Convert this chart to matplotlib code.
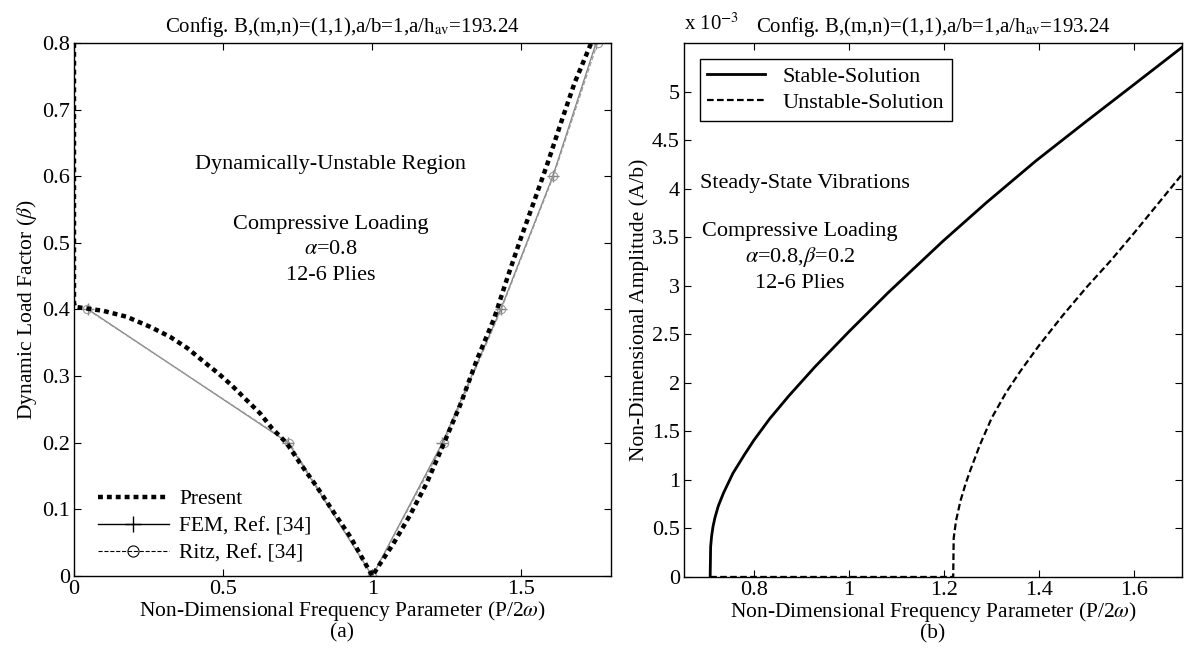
import matplotlib
matplotlib.use('Agg')
import matplotlib.pyplot as plt
from matplotlib.lines import Line2D
from matplotlib.ticker import FuncFormatter

plt.rcParams['font.family'] = ['Liberation Serif', 'DejaVu Serif']
plt.rcParams['mathtext.fontset'] = 'stix'
plt.rcParams['font.size'] = 15

# (a) instability region, beta vs P/2w
present_x = [0.0, 0.0, 0.003, 0.098, 0.177, 0.255, 0.322, 0.380, 0.434, 0.484, 0.529, 0.574,
             0.624, 0.663, 0.714, 0.758, 0.814, 0.870, 0.926, 1.0, 1.027, 1.070, 1.126,
             1.182, 1.239, 1.295, 1.351, 1.408, 1.453, 1.498, 1.543, 1.588, 1.633, 1.678, 1.734]
present_beta = [0.8, 0.41, 0.404, 0.398, 0.389, 0.374, 0.359, 0.342, 0.322, 0.304, 0.286, 0.266,
                0.244, 0.222, 0.199, 0.169, 0.134, 0.096, 0.059, 0.0, 0.019, 0.048, 0.091,
                0.139, 0.198, 0.257, 0.325, 0.386, 0.448, 0.507, 0.563, 0.620, 0.681, 0.740, 0.8]
fem_x = [0.048, 0.718, 1.0, 1.235, 1.430, 1.605, 1.750]
fem_beta = [0.4, 0.2, 0.0, 0.2, 0.4, 0.6, 0.8]
ritz_x = [0.045, 0.722, 1.0, 1.240, 1.432, 1.607, 1.755]
ritz_beta = [0.4, 0.2, 0.0, 0.2, 0.4, 0.6, 0.8]

# (b) amplitude (x 1e-3) vs P/2w
stable_x = [0.708, 0.7085, 0.709, 0.711, 0.714, 0.718, 0.725, 0.736, 0.756, 0.78, 0.8,
            0.833, 0.874, 0.929, 1.0, 1.082, 1.197, 1.289, 1.393, 1.497, 1.6, 1.65, 1.7]
stable_amp = [0.0, 0.15, 0.31, 0.42, 0.52, 0.61, 0.73, 0.865, 1.07, 1.26, 1.41,
              1.63, 1.87, 2.17, 2.53, 2.93, 3.46, 3.86, 4.29, 4.69, 5.08, 5.27, 5.46]
unstable_x = [0.708, 1.219, 1.2195, 1.22, 1.225, 1.234, 1.245, 1.255, 1.275, 1.30, 1.33,
              1.36, 1.4, 1.45, 1.5, 1.55, 1.6, 1.65, 1.7]
unstable_amp = [0.0, 0.0, 0.2, 0.4, 0.58, 0.78, 0.96, 1.1, 1.36, 1.64, 1.9,
                2.12, 2.39, 2.7, 2.99, 3.26, 3.55, 3.85, 4.15]

title = r'Config. B,(m,n)=(1,1),a/b=1,a/h$_{\rm av}$=193.24'
xlab = r'Non-Dimensional Frequency Parameter (P/2$\omega$)'
fmt = FuncFormatter(lambda v, p: '%g' % round(v, 3))

fig = plt.figure(figsize=(11.84, 6.49), dpi=100)
ax1 = fig.add_axes([0.0625, 0.1125, 0.4535, 0.8213])
ax2 = fig.add_axes([0.5777, 0.111, 0.4206, 0.8228])

for ax in (ax1, ax2):
    ax.tick_params(direction='in', top=True, right=True, length=5, labelsize=16, pad=3)
    ax.xaxis.set_major_formatter(fmt)
    ax.yaxis.set_major_formatter(fmt)
    for s in ax.spines.values():
        s.set_linewidth(1.0)

# left panel
ax1.plot(fem_x, fem_beta, color='0.5', lw=0.9, marker='+', ms=9, mew=1.0)
ax1.plot(ritz_x, ritz_beta, color='0.6', lw=0.9, ls='--', marker='o', ms=6, mfc='none', mew=0.8)
ax1.plot(present_x, present_beta, color='black', lw=3.2, ls=(0, (1.1, 0.9)))
ax1.set_xlim(0, 1.8)
ax1.set_ylim(0, 0.8)
ax1.set_xticks([0, 0.5, 1, 1.5])
ax1.set_yticks([0, 0.1, 0.2, 0.3, 0.4, 0.5, 0.6, 0.7, 0.8])
ax1.set_title(title, fontsize=15, pad=8)
ax1.set_xlabel(xlab, fontsize=15.5, labelpad=0)
ax1.set_ylabel(r'Dynamic Load Factor ($\beta$)', fontsize=15.5, labelpad=2)
ax1.text(0.5, -0.088, '(a)', transform=ax1.transAxes, ha='center', va='top', fontsize=15.5)
ax1.text(0.86, 0.617, 'Dynamically-Unstable Region', ha='center', va='center', fontsize=16)
ax1.text(0.86, 0.527, 'Compressive Loading', ha='center', va='center', fontsize=16)
ax1.text(0.86, 0.49, r'$\alpha$=0.8', ha='center', va='center', fontsize=16)
ax1.text(0.86, 0.451, '12-6 Plies', ha='center', va='center', fontsize=16)
h1 = [Line2D([], [], color='black', lw=3.2, ls=(0, (1.1, 0.9))),
      Line2D([], [], color='black', lw=1.0, marker='+', ms=12, mew=1.0),
      Line2D([], [], color='black', lw=0.8, ls='--', marker='o', ms=8, mfc='none', mew=0.8)]
ax1.legend(h1, ['Present', 'FEM, Ref. [34]', 'Ritz, Ref. [34]'], loc='lower left',
           frameon=False, fontsize=15.5, handlelength=3.3, handletextpad=0.5,
           labelspacing=0.32, borderaxespad=0.2, bbox_to_anchor=(0.02, 0.0))

# right panel
ax2.plot(stable_x, stable_amp, color='black', lw=2.0, label='Stable-Solution')
ax2.plot(unstable_x, unstable_amp, color='black', lw=1.6, ls=(0, (3, 1.5)),
         label='Unstable-Solution')
ax2.set_xlim(0.653, 1.7)
ax2.set_ylim(0, 5.505)
ax2.set_xticks([0.8, 1, 1.2, 1.4, 1.6])
ax2.set_yticks([0, 0.5, 1, 1.5, 2, 2.5, 3, 3.5, 4, 4.5, 5])
ax2.set_title(title, fontsize=15, pad=8)
ax2.text(0.0, 1.015, r'x 10$^{-3}$', transform=ax2.transAxes, ha='left', va='bottom', fontsize=15)
ax2.set_xlabel(xlab, fontsize=15.5, labelpad=0)
ax2.set_ylabel('Non-Dimensional Amplitude (A/b)', fontsize=15.5, labelpad=2)
ax2.text(0.5, -0.088, '(b)', transform=ax2.transAxes, ha='center', va='top', fontsize=15.5)
ax2.text(0.907, 4.06, 'Steady-State Vibrations', ha='center', va='center', fontsize=16)
ax2.text(0.897, 3.56, 'Compressive Loading', ha='center', va='center', fontsize=16)
ax2.text(0.897, 3.30, r'$\alpha$=0.8,$\beta$=0.2', ha='center', va='center', fontsize=16)
ax2.text(0.897, 3.03, '12-6 Plies', ha='center', va='center', fontsize=16)
leg = ax2.legend(loc='upper left', fontsize=16, fancybox=False, edgecolor='black',
                 handlelength=2.6, labelspacing=0.25, borderaxespad=0.7, framealpha=1,
                 borderpad=0.35)
leg.get_frame().set_linewidth(1.0)

fig.savefig('out.png', dpi=100)
